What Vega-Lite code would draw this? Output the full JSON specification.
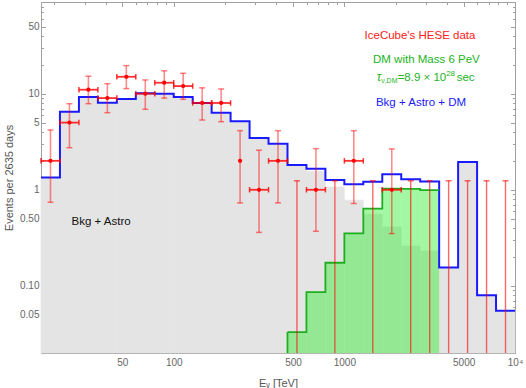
{
 "$schema": "https://vega.github.io/schema/vega-lite/v6.json",
 "width": 474,
 "height": 351,
 "autosize": {"type": "none"},
 "padding": {"left": 41, "top": 2, "right": 11, "bottom": 35},
 "background": "white",
 "config": {"view": {"stroke": "#a0a0a0", "strokeWidth": 1}, "font": "Liberation Sans"},
 "datasets": {
  "bins": [
   {"i": 0, "lo": 16.68, "hi": 21.54, "ctr": 18.96, "total": 1.34, "bkg": 1.34, "dm": null, "obs": 2, "elo": 0.74, "ehi": 4.19, "ul": null, "hb": true},
   {"i": 1, "lo": 21.54, "hi": 27.83, "ctr": 24.48, "total": 6.5, "bkg": 6.5, "dm": null, "obs": 5, "elo": 2.74, "ehi": 7.87, "ul": null, "hb": true},
   {"i": 2, "lo": 27.83, "hi": 35.94, "ctr": 31.62, "total": 9.24, "bkg": 9.24, "dm": null, "obs": 11, "elo": 7.87, "ehi": 15.2, "ul": null, "hb": true},
   {"i": 3, "lo": 35.94, "hi": 46.42, "ctr": 40.84, "total": 8.06, "bkg": 8.06, "dm": null, "obs": 9, "elo": 6.34, "ehi": 12.7, "ul": null, "hb": true},
   {"i": 4, "lo": 46.42, "hi": 59.95, "ctr": 52.75, "total": 8.8, "bkg": 8.8, "dm": null, "obs": 15, "elo": 11.3, "ehi": 19.6, "ul": null, "hb": true},
   {"i": 5, "lo": 59.95, "hi": 77.43, "ctr": 68.13, "total": 10.1, "bkg": 10.1, "dm": null, "obs": 10, "elo": 6.88, "ehi": 13.9, "ul": null, "hb": true},
   {"i": 6, "lo": 77.43, "hi": 100, "ctr": 87.99, "total": 10.0, "bkg": 10.0, "dm": null, "obs": 13, "elo": 9.0, "ehi": 17.3, "ul": null, "hb": true},
   {"i": 7, "lo": 100, "hi": 129.2, "ctr": 113.6, "total": 9.24, "bkg": 9.24, "dm": null, "obs": 12, "elo": 8.74, "ehi": 16.3, "ul": null, "hb": true},
   {"i": 8, "lo": 129.2, "hi": 166.8, "ctr": 146.8, "total": 8.0, "bkg": 8.0, "dm": null, "obs": 8, "elo": 5.32, "ehi": 11.5, "ul": null, "hb": true},
   {"i": 9, "lo": 166.8, "hi": 215.4, "ctr": 189.6, "total": 6.35, "bkg": 6.35, "dm": null, "obs": 8, "elo": 5.11, "ehi": 11.2, "ul": null, "hb": true},
   {"i": 10, "lo": 215.4, "hi": 278.3, "ctr": 244.8, "total": 5.18, "bkg": 5.18, "dm": null, "obs": 2, "elo": 0.73, "ehi": 4.12, "ul": null, "hb": false},
   {"i": 11, "lo": 278.3, "hi": 359.4, "ctr": 316.2, "total": 3.45, "bkg": 3.45, "dm": null, "obs": 1, "elo": 0.36, "ehi": 2.58, "ul": null, "hb": true},
   {"i": 12, "lo": 359.4, "hi": 464.2, "ctr": 408.4, "total": 3.02, "bkg": 3.02, "dm": null, "obs": 2, "elo": 0.73, "ehi": 4.12, "ul": null, "hb": true},
   {"i": 13, "lo": 464.2, "hi": 599.5, "ctr": 527.5, "total": 1.81, "bkg": 1.78, "dm": 0.033, "obs": null, "elo": null, "ehi": null, "ul": 1.24, "hb": false},
   {"i": 14, "lo": 599.5, "hi": 774.3, "ctr": 681.3, "total": 1.65, "bkg": 1.56, "dm": 0.086, "obs": 1, "elo": 0.37, "ehi": 2.68, "ul": null, "hb": true},
   {"i": 15, "lo": 774.3, "hi": 1000, "ctr": 879.9, "total": 1.26, "bkg": 1.07, "dm": 0.174, "obs": null, "elo": null, "ehi": null, "ul": 1.24, "hb": false},
   {"i": 16, "lo": 1000, "hi": 1291.5, "ctr": 1136, "total": 1.14, "bkg": 0.78, "dm": 0.352, "obs": 2, "elo": 0.72, "ehi": 4.12, "ul": null, "hb": true},
   {"i": 17, "lo": 1291.5, "hi": 1668.1, "ctr": 1468, "total": 1.21, "bkg": 0.556, "dm": 0.636, "obs": null, "elo": null, "ehi": null, "ul": 1.24, "hb": false},
   {"i": 18, "lo": 1668.1, "hi": 2154.4, "ctr": 1896, "total": 1.45, "bkg": 0.41, "dm": 1.03, "obs": 1, "elo": 0.35, "ehi": 2.66, "ul": null, "hb": true},
   {"i": 19, "lo": 2154.4, "hi": 2782.6, "ctr": 2448, "total": 1.29, "bkg": 0.26, "dm": 1.02, "obs": null, "elo": null, "ehi": null, "ul": 1.24, "hb": false},
   {"i": 20, "lo": 2782.6, "hi": 3593.8, "ctr": 3162, "total": 1.22, "bkg": 0.23, "dm": 0.99, "obs": null, "elo": null, "ehi": null, "ul": 1.24, "hb": false},
   {"i": 21, "lo": 3593.8, "hi": 4641.6, "ctr": 4084, "total": 0.155, "bkg": 0.155, "dm": null, "obs": null, "elo": null, "ehi": null, "ul": 1.24, "hb": false},
   {"i": 22, "lo": 4641.6, "hi": 5994.8, "ctr": 5275, "total": 1.94, "bkg": 1.94, "dm": null, "obs": null, "elo": null, "ehi": null, "ul": 1.24, "hb": false},
   {"i": 23, "lo": 5994.8, "hi": 7742.6, "ctr": 6813, "total": 0.08, "bkg": 0.08, "dm": null, "obs": null, "elo": null, "ehi": null, "ul": 1.24, "hb": false},
   {"i": 24, "lo": 7742.6, "hi": 10000, "ctr": 8799, "total": 0.055, "bkg": 0.055, "dm": null, "obs": null, "elo": null, "ehi": null, "ul": 1.24, "hb": false}
  ],
  "one": [{}]
 },
 "data": {"name": "bins"},
 "resolve": {"axis": {"x": "independent", "y": "independent"}},
 "layer": [
  {
   "mark": {"type": "rect", "fill": "#e4e4e4", "stroke": "#e4e4e4", "strokeWidth": 0.6},
   "encoding": {
    "x": {"field": "lo", "type": "quantitative", "scale": {"type": "log", "domain": [16.68, 10000], "nice": false},
     "axis": {"orient": "bottom", "values": [20,30,40,50,60,70,80,90,100,200,300,400,500,600,700,800,900,1000,2000,3000,4000,5000,6000,7000,8000,9000,10000],
      "labelExpr": "datum.value == 50 ? '50' : datum.value == 100 ? '100' : datum.value == 500 ? '500' : datum.value == 1000 ? '1000' : datum.value == 5000 ? '5000' : datum.value == 10000 ? '10⁴' : ''",
      "tickSize": {"condition": {"test": "datum.value == 50 || datum.value == 100 || datum.value == 500 || datum.value == 1000 || datum.value == 5000 || datum.value == 10000", "value": -4.5}, "value": -2.5},
      "labelPadding": 9, "labelOverlap": false, "labelFlush": false, "labelBound": false,
      "labelFontSize": 10, "labelColor": "#666666", "labelFont": "Liberation Sans",
      "tickColor": "#a0a0a0", "tickWidth": 1, "domain": false, "grid": false,
      "title": "Eᵥ [TeV]", "titleFont": "Liberation Sans", "titleFontSize": 11, "titleFontWeight": "normal", "titleColor": "#555555", "titlePadding": 8}},
    "x2": {"field": "hi"},
    "y": {"field": "bkg", "type": "quantitative", "scale": {"type": "log", "domain": [0.02, 90], "nice": false},
     "axis": {"orient": "left", "values": [0.02,0.03,0.04,0.05,0.06,0.07,0.08,0.09,0.1,0.2,0.3,0.4,0.5,0.6,0.7,0.8,0.9,1,2,3,4,5,6,7,8,9,10,20,30,40,50,60,70,80,90],
      "labelExpr": "datum.value == 0.05 ? '0.05' : datum.value == 0.1 ? '0.10' : datum.value == 0.5 ? '0.50' : datum.value == 1 ? '1' : datum.value == 5 ? '5' : datum.value == 10 ? '10' : datum.value == 50 ? '50' : ''",
      "tickSize": {"condition": {"test": "datum.value == 0.05 || datum.value == 0.1 || datum.value == 0.5 || datum.value == 1 || datum.value == 5 || datum.value == 10 || datum.value == 50", "value": -4.5}, "value": -2.5},
      "labelPadding": 6.5, "labelOverlap": false, "labelFlush": false, "labelBound": false,
      "labelFontSize": 10, "labelColor": "#666666", "labelFont": "Liberation Sans",
      "tickColor": "#a0a0a0", "tickWidth": 1, "domain": false, "grid": false,
      "title": "Events per 2635 days", "titleFont": "Liberation Sans", "titleFontSize": 11, "titleFontWeight": "normal", "titleColor": "#555555", "titlePadding": 5}},
    "y2": {"datum": 0.02}
   }
  },
  {
   "transform": [{"filter": "isValid(datum.dm)"}],
   "mark": {"type": "rect", "fill": "#33ee33", "fillOpacity": 0.45},
   "encoding": {
    "x": {"field": "lo", "type": "quantitative",
     "axis": {"orient": "top", "values": [20,30,40,50,60,70,80,90,100,200,300,400,500,600,700,800,900,1000,2000,3000,4000,5000,6000,7000,8000,9000,10000],
      "labels": false, "title": null, "domain": false, "grid": false, "tickColor": "#a0a0a0", "tickWidth": 1,
      "tickSize": {"condition": {"test": "datum.value == 50 || datum.value == 100 || datum.value == 500 || datum.value == 1000 || datum.value == 5000 || datum.value == 10000", "value": -4.5}, "value": -2.5}}},
    "x2": {"field": "hi"},
    "y": {"field": "dm", "type": "quantitative",
     "axis": {"orient": "right", "values": [0.02,0.03,0.04,0.05,0.06,0.07,0.08,0.09,0.1,0.2,0.3,0.4,0.5,0.6,0.7,0.8,0.9,1,2,3,4,5,6,7,8,9,10,20,30,40,50,60,70,80,90],
      "labels": false, "title": null, "domain": false, "grid": false, "tickColor": "#a0a0a0", "tickWidth": 1,
      "tickSize": {"condition": {"test": "datum.value == 0.05 || datum.value == 0.1 || datum.value == 0.5 || datum.value == 1 || datum.value == 5 || datum.value == 10 || datum.value == 50", "value": -4.5}, "value": -2.5}}},
    "y2": {"datum": 0.02}
   }
  },
  {
   "transform": [{"fold": ["lo", "hi"], "as": ["key", "xv"]}],
   "mark": {"type": "line", "stroke": "#1a1aff", "strokeWidth": 2},
   "encoding": {
    "x": {"field": "xv", "type": "quantitative", "axis": null},
    "y": {"field": "total", "type": "quantitative", "axis": null},
    "order": [{"field": "i", "type": "quantitative"}, {"field": "key", "type": "nominal", "sort": "descending"}]
   }
  },
  {
   "transform": [{"filter": "isValid(datum.dm)"}, {"fold": ["lo", "hi"], "as": ["key", "xv"]}],
   "mark": {"type": "line", "stroke": "#1fae1f", "strokeWidth": 1.8},
   "encoding": {
    "x": {"field": "xv", "type": "quantitative", "axis": null},
    "y": {"field": "dm", "type": "quantitative", "axis": null},
    "order": [{"field": "i", "type": "quantitative"}, {"field": "key", "type": "nominal", "sort": "descending"}]
   }
  },
  {
   "transform": [{"filter": "datum.i == 13"}],
   "mark": {"type": "rule", "stroke": "#1fae1f", "strokeWidth": 1.8},
   "encoding": {
    "x": {"field": "lo", "type": "quantitative", "axis": null},
    "y": {"field": "dm", "type": "quantitative", "axis": null},
    "y2": {"datum": 0.02}
   }
  },
  {
   "transform": [{"filter": "isValid(datum.obs)"}],
   "mark": {"type": "rule", "stroke": "#ff0000", "strokeOpacity": 0.45, "strokeWidth": 1.6},
   "encoding": {
    "x": {"field": "ctr", "type": "quantitative", "axis": null},
    "y": {"field": "elo", "type": "quantitative", "axis": null},
    "y2": {"field": "ehi"}
   }
  },
  {
   "transform": [{"filter": "isValid(datum.obs)"}, {"fold": ["elo", "ehi"], "as": ["ek", "ev"]}],
   "mark": {"type": "tick", "orient": "horizontal", "size": 6, "thickness": 1.5, "color": "#ff0000", "opacity": 0.5},
   "encoding": {
    "x": {"field": "ctr", "type": "quantitative", "axis": null},
    "y": {"field": "ev", "type": "quantitative", "axis": null}
   }
  },
  {
   "transform": [{"filter": "isValid(datum.ul)"}],
   "mark": {"type": "rule", "stroke": "#ff0000", "strokeOpacity": 0.6, "strokeWidth": 1.4},
   "encoding": {
    "x": {"field": "ctr", "type": "quantitative", "axis": null},
    "y": {"field": "ul", "type": "quantitative", "axis": null},
    "y2": {"datum": 0.02}
   }
  },
  {
   "transform": [{"filter": "isValid(datum.ul)"}],
   "mark": {"type": "tick", "orient": "horizontal", "size": 6, "thickness": 1.5, "color": "#ff0000", "opacity": 0.6},
   "encoding": {
    "x": {"field": "ctr", "type": "quantitative", "axis": null},
    "y": {"field": "ul", "type": "quantitative", "axis": null}
   }
  },
  {
   "transform": [{"filter": "datum.hb"}],
   "mark": {"type": "rule", "stroke": "#ff0000", "strokeOpacity": 0.8, "strokeWidth": 1.8},
   "encoding": {
    "x": {"field": "lo", "type": "quantitative", "axis": null},
    "x2": {"field": "hi"},
    "y": {"field": "obs", "type": "quantitative", "axis": null}
   }
  },
  {
   "transform": [{"filter": "datum.hb"}, {"fold": ["lo", "hi"], "as": ["hk", "hv"]}],
   "mark": {"type": "tick", "orient": "vertical", "size": 5.5, "thickness": 1.5, "color": "#ff0000", "opacity": 0.8},
   "encoding": {
    "x": {"field": "hv", "type": "quantitative", "axis": null},
    "y": {"field": "obs", "type": "quantitative", "axis": null}
   }
  },
  {
   "transform": [{"filter": "isValid(datum.obs)"}],
   "mark": {"type": "point", "filled": true, "color": "#ff0000", "size": 18, "opacity": 1},
   "encoding": {
    "x": {"field": "ctr", "type": "quantitative", "axis": null},
    "y": {"field": "obs", "type": "quantitative", "axis": null}
   }
  },
  {
   "data": {"name": "one"},
   "mark": {"type": "text", "text": "IceCube's HESE data", "color": "#ff2020", "fontSize": 11.5, "font": "Liberation Sans", "align": "center", "baseline": "middle"},
   "encoding": {"x": {"datum": 2774, "type": "quantitative", "axis": null}, "y": {"datum": 40.1, "type": "quantitative", "axis": null}}
  },
  {
   "data": {"name": "one"},
   "mark": {"type": "text", "text": "DM with Mass 6 PeV", "color": "#22b422", "fontSize": 11.5, "font": "Liberation Sans", "align": "center", "baseline": "middle"},
   "encoding": {"x": {"datum": 3025, "type": "quantitative", "axis": null}, "y": {"datum": 22.4, "type": "quantitative", "axis": null}}
  },
  {
   "data": {"name": "one"},
   "mark": {"type": "text", "text": "τ", "color": "#22b422", "fontSize": 12, "font": "Liberation Sans", "fontStyle": "italic", "align": "left", "baseline": "alphabetic", "dx": 0},
   "encoding": {"x": {"datum": 1546, "type": "quantitative", "axis": null}, "y": {"datum": 13.56, "type": "quantitative", "axis": null}}
  },
  {
   "data": {"name": "one"},
   "mark": {"type": "text", "text": "ν,DM", "color": "#22b422", "fontSize": 7, "font": "Liberation Sans", "align": "left", "baseline": "alphabetic", "dx": 4.5, "dy": 2.5},
   "encoding": {"x": {"datum": 1546, "type": "quantitative", "axis": null}, "y": {"datum": 13.56, "type": "quantitative", "axis": null}}
  },
  {
   "data": {"name": "one"},
   "mark": {"type": "text", "text": "=8.9 × 10", "color": "#22b422", "fontSize": 11.5, "font": "Liberation Sans", "align": "left", "baseline": "alphabetic", "dx": 21},
   "encoding": {"x": {"datum": 1546, "type": "quantitative", "axis": null}, "y": {"datum": 13.56, "type": "quantitative", "axis": null}}
  },
  {
   "data": {"name": "one"},
   "mark": {"type": "text", "text": "28", "color": "#22b422", "fontSize": 8, "font": "Liberation Sans", "align": "left", "baseline": "alphabetic", "dx": 69.5, "dy": -5},
   "encoding": {"x": {"datum": 1546, "type": "quantitative", "axis": null}, "y": {"datum": 13.56, "type": "quantitative", "axis": null}}
  },
  {
   "data": {"name": "one"},
   "mark": {"type": "text", "text": "sec", "color": "#22b422", "fontSize": 11.5, "font": "Liberation Sans", "align": "left", "baseline": "alphabetic", "dx": 80},
   "encoding": {"x": {"datum": 1546, "type": "quantitative", "axis": null}, "y": {"datum": 13.56, "type": "quantitative", "axis": null}}
  },
  {
   "data": {"name": "one"},
   "mark": {"type": "text", "text": "Bkg + Astro + DM", "color": "#2020ff", "fontSize": 11.5, "font": "Liberation Sans", "align": "center", "baseline": "middle"},
   "encoding": {"x": {"datum": 2812, "type": "quantitative", "axis": null}, "y": {"datum": 7.95, "type": "quantitative", "axis": null}}
  },
  {
   "data": {"name": "one"},
   "mark": {"type": "text", "text": "Bkg + Astro", "color": "#111111", "fontSize": 11.5, "font": "Liberation Sans", "align": "center", "baseline": "middle"},
   "encoding": {"x": {"datum": 37.5, "type": "quantitative", "axis": null}, "y": {"datum": 0.462, "type": "quantitative", "axis": null}}
  }
 ]
}
